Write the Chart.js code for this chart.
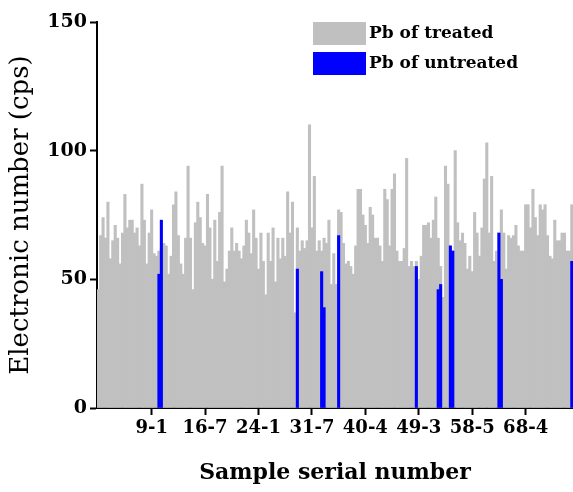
<!DOCTYPE html>
<html>
<head>
<meta charset="utf-8">
<script src="https://cdn.jsdelivr.net/npm/chart.js@4.4.0/dist/chart.umd.min.js"></script>
<style>
  html, body { margin: 0; padding: 0; background: #fff; }
</style>
</head>
<body>
<canvas id="pbChart" width="573" height="492"></canvas>
<script>
// Pb counts of the treated samples, one bar per sample
const treated = [
  46, 67, 74, 66, 80, 58, 65, 71, 66, 56, 68, 83, 70, 73, 73, 68, 70, 63, 87, 73,
  56, 68, 77, 60, 59, 61, 62, 64, 63, 52, 59, 79, 84, 67, 56, 52, 66, 94, 66,
  46, 72, 80, 74, 64, 63, 83, 70, 50, 73, 57, 76, 94, 49, 54, 61, 70, 61, 64, 61,
  58, 63, 73, 68, 60, 77, 66, 54, 68, 57, 44, 68, 57, 70, 49, 66, 58, 66, 59, 84,
  68, 80, 37, 70, 61, 65, 62, 65, 110, 70, 90, 61, 65, 61, 66, 64, 73, 48, 60, 48,
  77, 76, 64, 56, 57, 55, 52, 63, 85, 85, 75, 71, 64, 78, 75, 66, 66, 63, 57,
  85, 81, 63, 85, 91, 61, 57, 57, 62, 97, 55, 57, 55, 57, 50, 59, 71, 71, 72, 66,
  73, 82, 66, 55, 43, 94, 87, 63, 61, 100, 72, 65, 68, 64, 54, 59, 53, 76,
  68, 59, 70, 89, 103, 68, 90, 57, 61, 68, 77, 68, 54, 67, 66, 67, 71, 63, 61, 61,
  79, 79, 70, 85, 74, 67, 79, 77, 79, 67, 59, 58, 73, 65, 65, 68, 68, 61, 61, 79
];

// untreated samples: where they sit in the row and their counts
const untreatedAt = [25, 26, 82, 92, 93, 99, 131, 140, 141, 145, 146, 165, 166, 195];
const untreatedVal = [52, 73, 54, 53, 39, 67, 55, 46, 48, 63, 61, 68, 50, 57];

const tickIndex = [22, 44, 66, 88, 110, 132, 154, 176];
const tickLabels = ["9-1", "16-7", "24-1", "31-7", "40-4", "49-3", "58-5", "68-4"];

const samples = treated.map((v, i) => String(i + 1));
const untreated = treated.map(() => null);
untreatedAt.forEach((idx, k) => { untreated[idx] = untreatedVal[k]; });

const serif = "DejaVu Serif";

// legend boxes drawn inside the plot, top right
const boxLegend = {
  id: "boxLegend",
  afterDraw(chart) {
    const ctx = chart.ctx;
    ctx.save();
    ctx.font = "bold 17px '" + serif + "'";
    ctx.textBaseline = "middle";
    ctx.textAlign = "left";
    chart.data.datasets.forEach((ds, k) => {
      const y = 22 + k * 30;
      ctx.fillStyle = ds.backgroundColor;
      ctx.fillRect(313, y, 53, 23);
      ctx.fillStyle = "#000";
      ctx.fillText(ds.label, 369, y + 12);
    });
    ctx.restore();
  }
};

new Chart(document.getElementById("pbChart"), {
  type: "bar",
  data: {
    labels: samples,
    datasets: [
      {
        label: "Pb of treated",
        data: treated,
        backgroundColor: "#c0c0c0",
        order: 2
      },
      {
        label: "Pb of untreated",
        data: untreated,
        backgroundColor: "#0000ff",
        order: 1
      }
    ]
  },
  options: {
    responsive: false,
    animation: false,
    devicePixelRatio: 1,
    layout: { padding: { top: 22, right: 0, left: 0, bottom: 0 } },
    datasets: {
      bar: { grouped: false, barPercentage: 1, categoryPercentage: 1, borderWidth: 0 }
    },
    plugins: {
      legend: { display: false },
      tooltip: { enabled: false }
    },
    scales: {
      x: {
        offset: true,
        grid: { drawOnChartArea: false, offset: false, tickLength: 7, tickColor: "#000", tickWidth: 2 },
        border: { color: "#000", width: 2 },
        afterBuildTicks: (axis) => { axis.ticks = tickIndex.map((v) => ({ value: v })); },
        afterFit: (s) => { s.height = 84; },
        ticks: {
          autoSkip: false,
          maxRotation: 0,
          padding: 3,
          color: "#000",
          font: { family: serif, size: 18, weight: "bold" },
          callback: (v) => tickLabels[tickIndex.indexOf(v)]
        },
        title: {
          display: true,
          text: "Sample serial number",
          color: "#000",
          padding: { top: 4, bottom: 6 },
          font: { family: serif, size: 22, weight: "bold" }
        }
      },
      y: {
        min: 0,
        max: 150,
        grid: { drawOnChartArea: false, tickLength: 7, tickColor: "#000", tickWidth: 2 },
        border: { color: "#000", width: 2 },
        afterFit: (s) => { s.width = 97; },
        ticks: {
          stepSize: 50,
          padding: 3,
          color: "#000",
          font: { family: serif, size: 19, weight: "bold" }
        },
        title: {
          display: true,
          text: "Electronic number (cps)",
          color: "#000",
          padding: { top: 6, bottom: 4 },
          font: { family: serif, size: 26 }
        }
      }
    }
  },
  plugins: [boxLegend]
});
</script>
</body>
</html>
